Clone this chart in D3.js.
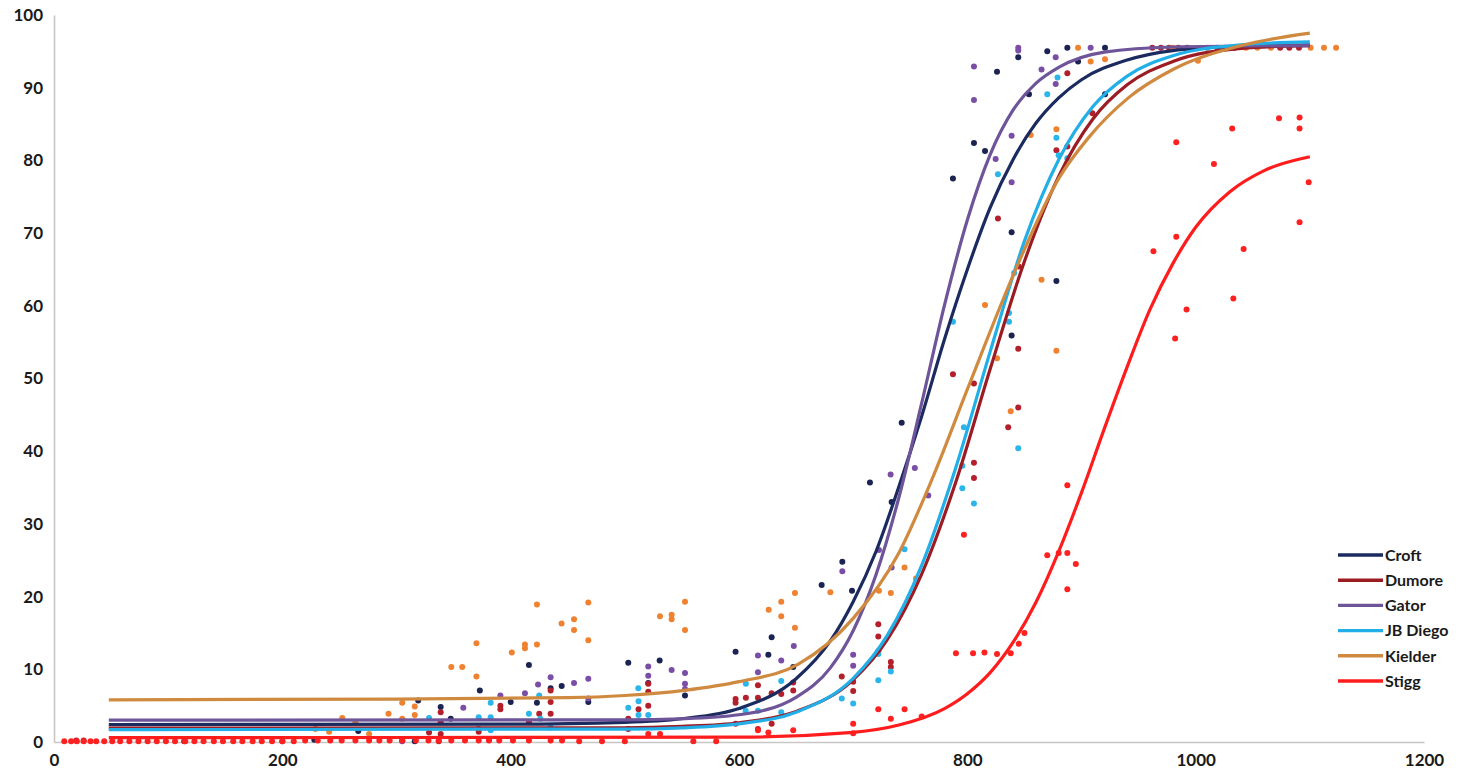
<!DOCTYPE html>
<html>
<head>
<meta charset="utf-8">
<script src="https://cdn.jsdelivr.net/npm/d3@7"></script>
<style>
body { margin: 0; background: #fff; }
text { font-family: Lato, 'Open Sans', sans-serif; font-weight: bold; fill: #1a1a1a; }
</style>
</head>
<body>
<div id="chart"></div>
<script>
var seriesNames = ['Croft', 'Dumore', 'Gator', 'JB Diego', 'Kielder', 'Stigg'];
var xTicks = [0, 200, 400, 600, 800, 1000, 1200];
var yTicks = [0, 10, 20, 30, 40, 50, 60, 70, 80, 90, 100];

// measured points [x, y]
var croftPoints = [[228,0.3],[266.5,1.5],[316,0.1],[319,5.7],[338.7,4.8],[347.5,3.2],[373,7.1],[400,5.5],[416,10.6],[423,5.4],[435,7.4],[444.7,7.7],[468,5.5],
    [503,10.9],[520.5,8.1],[530.5,11.2],[552.7,6.4],[597,12.4],[625.7,12],[628.6,14.4],[647.5,10.3],[672.4,21.6],[690.5,24.8],[699,20.8],[714.7,35.7],[733.7,33],
    [742.5,43.9],[787.4,77.5],[805.8,82.4],[815.5,81.3],[838.8,70.1],[838.8,55.9],[878,63.4],[826,92.2],[844.6,94.2],[854,89.1],[870,95],[887.6,95.5],[897,93.6],[920.6,95.5],[920.6,89.1]];
var dumorePoints = [[19.5,0.2],[26,0.2],[114,0.1],[200,0.1],[305,0.2],[328.5,1.3],[337,0.1],[338.7,4.1],[338.7,2.7],[338.7,1.1],[372,1.8],[372,1.4],[381,0.3],[391,5],[391,4.5],[416,2.7],[425,3.9],[435,7.1],[435,5.5],[435,3.9],
    [503,3.2],[503,1.8],[512,4.5],[520.5,8],[520.5,6.9],[520.5,5],[597,5.9],[597,5.4],[597,2.5],[606,6.1],[616.6,7.8],[616.6,6.1],[616.6,1.8],[628.6,6.7],[628.6,2.5],[637,6.6],[647.5,8.2],[647.5,7.1],
    [690,9],[700,8.3],[700,7],[722,16.2],[722,14.5],[722,12.5],[733,11],[733,10.3],
    [787.4,50.6],[805.8,49.3],[805.8,38.4],[805.8,36.3],[826.8,72],[835.8,43.3],[844.6,46],[844.6,54.1],[845,65.4],[878,81.4],[887.6,81.9],[887.6,92],[909.5,86.5],
    [962,95.5],[969.5,95.5],[976.6,95.5],[984.8,95.5],[992.6,95.5],[1019,95.5],[1026,95.5],[1034,95.5],[1074,95.5],[1082,95.5],[1090.5,95.5]];
var gatorPoints = [[305,0.1],[358.5,4.7],[391,6.4],[412.5,6.7],[424,7.9],[435,8.9],[455.5,8.1],[468,8.7],[468,6],
    [520.5,10.4],[520.5,9.1],[541,9.9],[552.7,9.5],[552.7,8],[552.7,7.3],[616.6,11.9],[616.6,9.6],[637,11.2],[648,13.2],[700,12],[700,10.5],
    [690.5,23.5],[722.6,26.4],[733.7,24],[732.8,36.8],[754,37.7],[765.8,33.9],[805.8,88.3],[805.8,92.9],[824.8,80.2],[838.8,83.4],[838.8,77],
    [844.6,95.5],[844.6,95.1],[865,92.5],[877.4,94.2],[877.4,90.5],[908,95.5]];
var jbDiegoPoints = [[328.5,3.3],[372,3.4],[382.5,5.4],[382.5,3.4],[382.5,1.6],[416,3.9],[425,6.4],[426,3.2],[435,2],
    [503,4.7],[511.8,7.4],[512,5.6],[512,3.7],[520.5,3.7],[605.8,4.3],[606,8],[616.6,4.3],[637,8.4],[637,4.1],[690,6],[700,5.3],[722,12.1],[722,8.5],[733,9.7],[745,26.5],
    [787.4,57.8],[795.6,38],[795.6,34.9],[797,43.3],[805.8,32.8],[826.8,78.1],[836.5,59],[836.5,57.8],[841,64.5],[844.6,40.4],[870,89.1],[878,83.1],[879,91.4],[880,80.7],[887.6,80.3],[1010,95.5]];
var kielderPoints = [[229,1.8],[241,1.4],[252.5,3.3],[264,2.7],[276,1.1],[293,3.9],[305,5.4],[305,3.2],[316,4.9],[316,3.7],[348,10.3],[357.6,10.3],[370,13.6],[370,9],
    [401,12.3],[412.5,13.4],[412.5,12.9],[423,18.9],[423,13.4],[444.6,16.3],[455.5,16.9],[455.5,15.4],[468,19.2],[468,14],
    [530.8,17.3],[541,17.5],[541,16.9],[552.7,19.3],[552.7,15.4],[626,18.2],[637,19.3],[637,17.3],[649,20.5],[649,15.7],[680,20.6],[722.6,20.8],[733,20.5],[745,24],[755,22.5],
    [815.5,60.1],[826,52.8],[838,45.5],[855.5,83.5],[865,63.6],[878,84.3],[878,53.8],[897,95.5],[908,93.6],[920.6,93.9],[980,95.5],[1002,93.7],
    [1044,95.5],[1054,95.5],[1066,95.5],[1100.7,95.5],[1112.4,95.5],[1123,95.5]];
var stiggPoints = [[9,0.1],[15,0.1],[20,0.1],[26,0.1],[32,0.1],[37,0.1],[44,0.1],[51,0.1],[58,0.1],[66,0.1],[74,0.1],[82,0.1],[90,0.1],[98,0.1],[106,0.1],
    [115,0.1],[123,0.1],[131,0.1],[140,0.1],[148,0.1],[157,0.1],[165,0.1],[174,0.1],[182,0.1],[191,0.1],[200,0.1],[210,0.1],[220,0.2],[231,0.2],[242,0.2],
    [252,0.2],[264,0.2],[276,0.2],[285,0.2],[294,0.2],[305,0.2],[317,0.2],[328,0.2],[337,0.2],[348,0.2],[360,0.2],[372,0.2],[381,0.2],[390,0.2],[402,0.2],
    [416,0.2],[435,0.2],[445,0.2],[460,0.1],[480,0.1],[500,0.1],[520.5,1.1],[530.8,1.1],[560,0.1],[580,0.1],[616.6,1.6],[625.7,1.3],[647.5,1.6],
    [700,1.2],[700,2.5],[722,4.5],[733,3.2],[745,4.5],[760,3.5],[790,12.2],[797,28.5],[805,12.2],[815,12.3],[826,12.1],[838,12.2],[845,13.5],[850,15],
    [870,25.7],[880,26],[887.6,35.3],[887.6,26],[887.6,21],[895,24.5],
    [963,67.5],[982,55.5],[983,69.5],[983,82.5],[992,59.5],[1016,79.5],[1032,84.4],[1033,61],[1042,67.8],[1073,85.8],[1091,85.9],[1091,84.4],[1091,71.5],[1099,77]];

// fitted trend lines [x, y]
var croftFit = [[48,2.4],[400,2.45],[500,2.7],[550,3.2],[600,4.6],[650,8.7],[680,13.9],[700,19.3],[720,26.2],[740,35.1],[760,44.8],[780,55.4],[800,65],[820,73.5],[840,80.1],[860,85.1],[880,88.6],[900,91.1],[940,93.8],[980,95.1],[1040,95.7],[1100,95.9]];
var dumoreFit = [[48,1.9],[500,1.95],[550,2.15],[600,2.65],[650,4.2],[700,8.55],[730,14.1],[760,23.1],[790,35.8],[820,51.3],[850,66.1],[880,77.8],[910,85.7],[940,90.4],[980,93.6],[1040,95.4],[1100,95.8]];
var gatorFit = [[48,3],[500,3.05],[550,3.2],[600,3.75],[650,6.15],[680,10.2],[700,15.3],[720,23],[740,33.6],[760,46.6],[780,60.1],[800,71.8],[820,80.8],[840,86.9],[860,90.6],[880,92.8],[920,94.9],[980,95.6],[1100,95.8]];
var jbDiegoFit = [[48,1.7],[500,1.78],[550,1.95],[600,2.5],[650,4.1],[700,8.75],[730,14.7],[760,24.3],[790,37.8],[820,53.7],[850,68.9],[880,80.1],[910,87.4],[940,91.6],[980,94.4],[1040,95.9],[1100,96.3]];
var kielderFit = [[48,5.8],[300,5.9],[450,6.1],[500,6.4],[552,7.1],[600,8.3],[652,10.7],[700,17],[740,26],[770,36.5],[800,48.5],[844,65.6],[880,77.5],[906,83.1],[941,88.6],[980,92.5],[1040,95.8],[1100,97.5]];
var stiggFit = [[48,0.6],[600,0.68],[700,1.33],[740,2.33],[780,4.6],[800,6.65],[820,9.55],[840,13.7],[860,19.2],[880,26.2],[900,34.3],[920,43.1],[940,51.6],[960,59.5],[980,65.8],[1000,70.8],[1030,75.7],[1060,78.6],[1100,80.5]];

var lineColors = ['#1b2a5f', '#9c1c24', '#6e5499', '#22aee6', '#d08a40', '#ff1c1c'];
var dotColors = ['#1a2352', '#b3202b', '#7a4ea6', '#2bb5ea', '#ee8230', '#ff2020'];

var allPoints = [croftPoints, dumorePoints, gatorPoints, jbDiegoPoints, kielderPoints, stiggPoints];
var allFits = [croftFit, dumoreFit, gatorFit, jbDiegoFit, kielderFit, stiggFit];

var width = 1470;
var height = 770;

var svg = d3.select('#chart')
    .append('svg')
    .attr('width', width)
    .attr('height', height);

var x = d3.scaleLinear().domain([0, 1200]).range([54, 1424]);
var y = d3.scaleLinear().domain([0, 100]).range([742, 15]);

// axes
svg.append('g')
    .attr('transform', 'translate(0,' + y(0) + ')')
    .call(d3.axisBottom(x).tickValues(xTicks).tickSize(0).tickPadding(12).tickFormat(d3.format('d')));

svg.append('g')
    .attr('transform', 'translate(' + x(0) + ',0)')
    .call(d3.axisLeft(y).tickValues(yTicks).tickSize(0).tickPadding(11).tickFormat(d3.format('d')));

svg.selectAll('.domain')
    .attr('stroke', '#c6c6c6')
    .attr('stroke-width', 1.6);

svg.selectAll('.tick text')
    .style('font-size', '17px')
    .style('font-family', 'Lato, sans-serif')
    .style('font-weight', 'bold')
    .attr('fill', '#1a1a1a');

// scatter points
allPoints.forEach(function (pts, i) {
    svg.append('g')
        .selectAll('circle')
        .data(pts)
        .enter()
        .append('circle')
        .attr('cx', function (d) {return x(d[0]);})
        .attr('cy', function (d) {return y(d[1]);})
        .attr('r', 3)
        .attr('fill', dotColors[i]);
});

// trend lines
var line = d3.line()
    .x(function (d) {return x(d[0]);})
    .y(function (d) {return y(d[1]);})
    .curve(d3.curveMonotoneX);

allFits.forEach(function (fit, i) {
    svg.append('path')
        .datum(fit)
        .attr('d', line)
        .attr('fill', 'none')
        .attr('stroke', lineColors[i])
        .attr('stroke-width', 3.2);
});

// legend
var legend = svg.selectAll('.legend')
    .data(seriesNames)
    .enter()
    .append('g')
    .attr('class', 'legend')
    .attr('transform', function (d, i) {
        return 'translate(1338,' + (555 + i * 25.2) + ')';
    });

legend.append('line')
    .attr('x1', 0)
    .attr('x2', 45)
    .attr('stroke', function (d, i) {return lineColors[i];})
    .attr('stroke-width', 3.4);

legend.append('text')
    .attr('x', 47)
    .attr('dy', '0.36em')
    .style('font-size', '16px')
    .text(function (d) {return d;});
</script>
</body>
</html>
